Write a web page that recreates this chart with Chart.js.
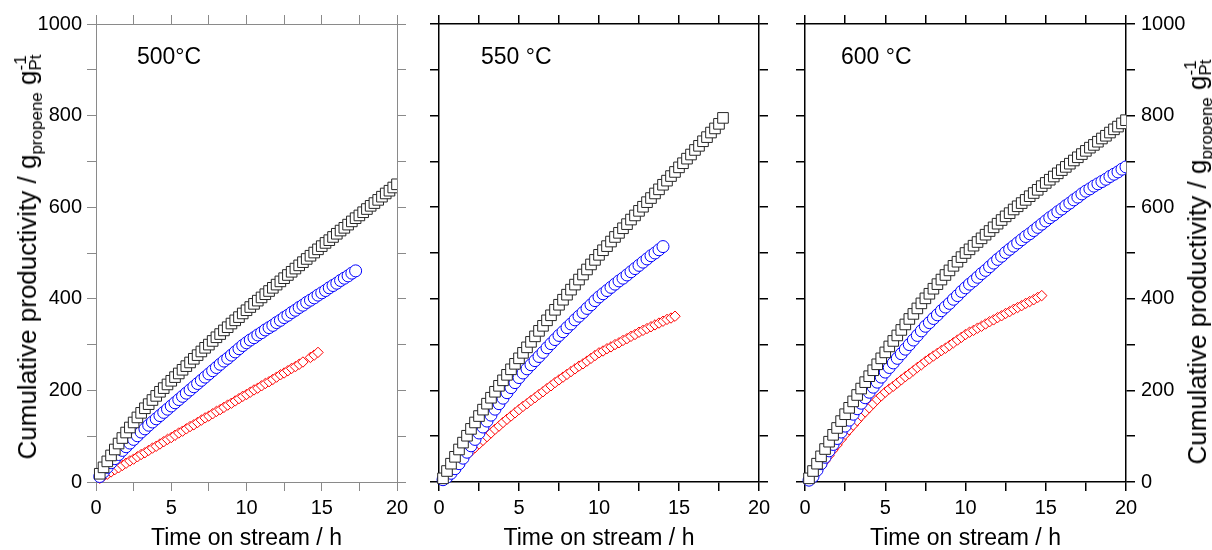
<!DOCTYPE html>
<html>
<head>
<meta charset="utf-8">
<script src="https://cdn.jsdelivr.net/npm/chart.js@4.4.1/dist/chart.umd.min.js"></script>
<style>
  body { margin: 0; background: #fff; }
  #wrap { position: relative; width: 1212px; height: 550px; overflow: hidden; font-family: "Liberation Sans", Arial, sans-serif; color: #000; }
  canvas { position: absolute; top: 0; }
  .temp { position: absolute; top: 45px; font-size: 23px; line-height: 23px; white-space: nowrap; z-index: 5; }
  .ytitle { position: absolute; font-size: 26px; line-height: 30px; white-space: nowrap; transform: translate(-50%, -50%) rotate(-90deg); z-index: 5; }
  .ytitle .sb { font-size: 17px; position: relative; top: 6px; }
  .ytitle .stack { display: inline-flex; flex-direction: column; font-size: 17px; line-height: 15px; vertical-align: 10px; }
</style>
</head>
<body>
<div id="wrap">
  <canvas id="c500" width="430" height="550" style="left:0px;width:430px;height:550px"></canvas>
  <canvas id="c550" width="380" height="550" style="left:410px;width:380px;height:550px"></canvas>
  <canvas id="c600" width="437" height="550" style="left:775px;width:437px;height:550px"></canvas>
  <div class="temp" style="left:137px">500°C</div>
  <div class="temp" style="left:481px">550 °C</div>
  <div class="temp" style="left:841px">600 °C</div>
  <div class="ytitle" style="left:29px;top:257px">Cumulative productivity / g<span class="sb">propene</span> g<span class="stack"><span>-1</span><span>Pt</span></span></div>
  <div class="ytitle" style="left:1199px;top:262px">Cumulative productivity / g<span class="sb">propene</span> g<span class="stack"><span>-1</span><span>Pt</span></span></div>
</div>
<script>
// time on stream (h), one point every 15 min
const times = [0.25, 0.5, 0.75, 1, 1.25, 1.5, 1.75, 2, 2.25, 2.5, 2.75, 3, 3.25, 3.5, 3.75, 4,
  4.25, 4.5, 4.75, 5, 5.25, 5.5, 5.75, 6, 6.25, 6.5, 6.75, 7, 7.25, 7.5, 7.75, 8,
  8.25, 8.5, 8.75, 9, 9.25, 9.5, 9.75, 10, 10.25, 10.5, 10.75, 11, 11.25, 11.5, 11.75, 12,
  12.25, 12.5, 12.75, 13, 13.25, 13.5, 13.75, 14, 14.25, 14.5, 14.75, 15, 15.25, 15.5, 15.75, 16,
  16.25, 16.5, 16.75, 17, 17.25, 17.5, 17.75, 18, 18.25, 18.5, 18.75, 19, 19.25, 19.5, 19.75, 20];

// 500 °C
const black500 = [18, 32, 45, 58, 71, 84, 96, 108, 119, 130, 141, 151, 161, 170, 179, 188,
  197, 205, 213, 221, 229, 237, 245, 253, 261, 269, 277, 285, 293, 300, 308, 316,
  323, 331, 338, 346, 353, 360, 368, 375, 382, 389, 396, 403, 410, 417, 424, 431,
  438, 445, 452, 459, 466, 473, 480, 487, 494, 501, 508, 515, 522, 528, 535, 542,
  549, 555, 562, 569, 576, 582, 589, 596, 603, 609, 616, 623, 630, 636, 643, 650];
const blue500 = [12, 22, 32, 42, 51, 60, 69, 77, 85, 93, 101, 109, 116, 124, 131, 138,
  145, 152, 159, 166, 173, 180, 187, 194, 201, 208, 215, 222, 229, 236, 243, 250,
  257, 264, 270, 277, 284, 291, 298, 304, 310, 315, 321, 326, 332, 337, 342, 348,
  353, 359, 364, 370, 375, 381, 386, 392, 397, 402, 408, 413, 418, 424, 429, 434,
  440, 445, 450, 456, 461];
const red500 = [8, 13, 17, 22, 27, 31, 36, 41, 46, 50, 55, 60, 64, 69, 74, 78,
  83, 88, 93, 97, 102, 107, 111, 116, 121, 125, 130, 135, 140, 144, 149, 154,
  158, 163, 168, 172, 177, 182, 187, 191, 196, 201, 205, 210, 215, 219, 224, 229,
  234, 238, 243, 248, 252, 257, 262, null, 272, 277, 283];

// 550 °C
const black550 = [8, 24, 40, 55, 71, 86, 101, 116, 130, 144, 158, 171, 184, 197, 210, 222,
  234, 246, 258, 270, 282, 294, 306, 318, 330, 341, 353, 364, 376, 387, 398, 409,
  420, 431, 442, 453, 464, 475, 485, 496, 506, 515, 525, 535, 544, 554, 563, 573,
  582, 592, 601, 611, 620, 630, 639, 649, 658, 668, 677, 687, 696, 706, 715, 725,
  734, 744, 753, 763, 772, 782, 795];
const blue550 = [5, 11, 19, 29, 40, 52, 65, 79, 93, 107, 120, 133, 146, 159, 171, 183,
  195, 206, 217, 228, 238, 247, 256, 265, 274, 283, 293, 302, 311, 320, 328, 337,
  345, 354, 362, 370, 379, 387, 396, 404, 411, 418, 425, 432, 439, 445, 452, 459,
  466, 473, 480, 487, 494, 500, 507, 514];
const red550 = [4, 14, 24, 33, 42, 51, 59, 67, 75, 83, 91, 99, 107, 115, 122, 130,
  137, 144, 151, 158, 165, 171, 178, 184, 191, 197, 204, 210, 217, 223, 229, 235,
  241, 247, 253, 258, 264, 270, 276, 282, 286, 291, 295, 300, 304, 309, 313, 318,
  322, 327, 331, 335, 339, 343, 347, 351, 355, 358, 362];

// 600 °C
const black600 = [8, 24, 40, 56, 72, 88, 103, 118, 133, 148, 162, 176, 190, 204, 218, 231,
  244, 257, 270, 283, 296, 308, 320, 332, 344, 356, 367, 379, 390, 401, 411, 422,
  432, 442, 452, 462, 472, 481, 491, 500, 508, 516, 524, 532, 540, 548, 556, 564,
  572, 580, 587, 595, 602, 609, 616, 624, 631, 638, 646, 653, 660, 667, 674, 681,
  688, 695, 702, 709, 716, 723, 730, 736, 743, 750, 756, 763, 770, 776, 783, 790];
const blue600 = [4, 12, 26, 40, 54, 68, 82, 95, 109, 122, 135, 148, 160, 172, 184, 196,
  207, 218, 229, 240, 250, 260, 270, 280, 290, 300, 310, 320, 330, 340, 348, 357,
  365, 374, 382, 390, 399, 407, 416, 424, 432, 439, 447, 455, 462, 470, 478, 486,
  493, 501, 508, 515, 522, 529, 536, 542, 549, 556, 563, 570, 577, 583, 590, 596,
  603, 609, 616, 622, 629, 635, 640, 646, 651, 656, 661, 667, 672, 677, 683, 688];
const red600 = [3, 10, 22, 34, 46, 58, 70, 81, 93, 104, 114, 124, 134, 144, 153, 162,
  171, 180, 188, 196, 203, 209, 216, 223, 230, 236, 243, 250, 256, 263, 269, 275,
  281, 287, 292, 298, 304, 310, 316, 322, 327, 331, 336, 340, 345, 350, 354, 359,
  363, 368, 372, 377, 381, 385, 390, 394, 398, 403, 407];

Chart.defaults.font.family = '"Liberation Sans", Arial, sans-serif';
Chart.defaults.color = '#000';

function pts(vals) {
  const out = [];
  vals.forEach((v, i) => { if (v !== null) out.push({ x: times[i], y: v }); });
  return out;
}

function series(vals, style, r, col) {
  return {
    data: pts(vals),
    pointStyle: style,
    pointRadius: r,
    pointBorderWidth: 1,
    pointBorderColor: col,
    pointBackgroundColor: '#fff',
    showLine: false,
    clip: { left: 10, top: 0, right: 0, bottom: 10 }
  };
}

function panel(id, o) {
  const grid = { drawOnChartArea: false, drawTicks: true, tickLength: 9, color: o.frame, lineWidth: o.fw };
  const border = { display: true, color: o.frame, width: o.fw };
  const yLabel = v => (v % 200 === 0 ? v : '');
  new Chart(document.getElementById(id), {
    type: 'scatter',
    data: {
      datasets: [
        series(o.black, 'rect', 7.5, '#262626'),
        series(o.blue, 'circle', 6, '#0000ff'),
        series(o.red, 'rectRot', 5.2, '#ff0000')
      ]
    },
    options: {
      responsive: false,
      animation: false,
      events: [],
      layout: { padding: 0 },
      plugins: { legend: { display: false }, tooltip: { enabled: false } },
      scales: {
        x: {
          type: 'linear', position: 'bottom', min: 0, max: 20,
          ticks: { stepSize: 2.5, autoSkip: false, maxRotation: 0, padding: 5,
            font: { size: 20 }, callback: v => (v % 5 === 0 ? v : '') },
          grid: grid, border: border,
          title: { display: true, text: 'Time on stream / h', font: { size: 23 }, padding: { top: 0, bottom: -2 } },
          afterFit: s => { s.height = 68; }
        },
        x2: {
          type: 'linear', position: 'top', min: 0, max: 20,
          ticks: { stepSize: 2.5, display: false },
          grid: grid, border: border,
          afterFit: s => { s.height = 24; }
        },
        y: {
          type: 'linear', position: 'left', min: 0, max: 1000,
          ticks: { stepSize: 100, autoSkip: false, display: o.leftLabels, padding: 5,
            font: { size: 20 }, callback: yLabel },
          grid: grid, border: border,
          afterFit: s => { s.width = o.leftW; }
        },
        y2: {
          type: 'linear', position: 'right', min: 0, max: 1000,
          ticks: { stepSize: 100, autoSkip: false, display: o.rightLabels, padding: 6,
            font: { size: 20 }, callback: yLabel },
          grid: grid, border: border,
          afterFit: s => { s.width = o.rightW; }
        }
      }
    }
  });
}

panel('c500', { black: black500, blue: blue500, red: red500, frame: '#8a8a8a', fw: 1,
  leftW: 96, rightW: 33, leftLabels: true, rightLabels: false });
panel('c550', { black: black550, blue: blue550, red: red550, frame: '#000', fw: 1.5,
  leftW: 29, rightW: 31, leftLabels: false, rightLabels: false });
panel('c600', { black: black600, blue: blue600, red: red600, frame: '#000', fw: 1.5,
  leftW: 30, rightW: 86, leftLabels: false, rightLabels: true });
</script>
</body>
</html>
